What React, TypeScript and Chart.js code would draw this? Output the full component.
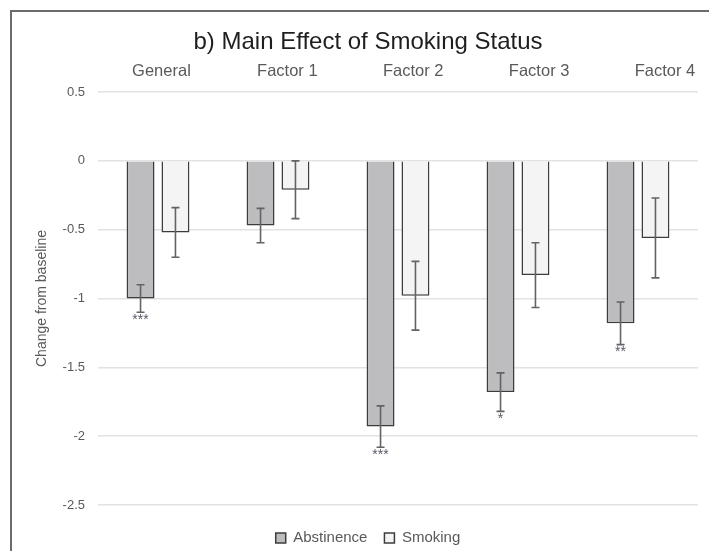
import React, { useEffect, useRef } from 'react';
import { Chart, registerables } from 'chart.js';

Chart.register(...registerables);

const categories = ['General', 'Factor 1', 'Factor 2', 'Factor 3', 'Factor 4'];
const abstinence = [-1.0, -0.47, -1.93, -1.68, -1.18];
const abstinenceErr = [0.1, 0.125, 0.15, 0.14, 0.155];
const smoking = [-0.52, -0.21, -0.98, -0.83, -0.56];
const smokingErr = [0.18, 0.21, 0.25, 0.235, 0.29];
const abstinenceSig = ['***', '', '***', '*', '**'];
const smokingSig = ['', '', '', '', ''];
const yMin = -2.5;
const yMax = 0.5;
const yStep = 0.5;

const errs = [abstinenceErr, smokingErr];
const sigs = [abstinenceSig, smokingSig];

const FONT = '"Liberation Sans", Arial, Helvetica, sans-serif';

const errorBarPlugin = {
  id: 'errorBars',
  afterDatasetsDraw(chart: any) {
    const ctx = chart.ctx;
    const yScale = chart.scales.y;
    chart.data.datasets.forEach((ds: any, di: number) => {
      const meta = chart.getDatasetMeta(di);
      meta.data.forEach((el: any, j: number) => {
        const v = ds.data[j];
        const e = errs[di][j];
        const yTop = yScale.getPixelForValue(v + e);
        const yBot = yScale.getPixelForValue(v - e);
        const x = el.x;
        ctx.save();
        ctx.strokeStyle = '#636363';
        ctx.lineWidth = 1.6;
        ctx.beginPath();
        ctx.moveTo(x, yTop);
        ctx.lineTo(x, yBot);
        ctx.moveTo(x - 4, yTop);
        ctx.lineTo(x + 4, yTop);
        ctx.moveTo(x - 4, yBot);
        ctx.lineTo(x + 4, yBot);
        ctx.stroke();
        const s = sigs[di][j];
        if (s) {
          ctx.fillStyle = '#555a66';
          ctx.font = `14px ${FONT}`;
          ctx.textAlign = 'center';
          ctx.textBaseline = 'top';
          ctx.fillText(s, x, yBot + 1);
        }
        ctx.restore();
      });
    });
  },
};

export default function App() {
  const ref = useRef<HTMLCanvasElement | null>(null);

  useEffect(() => {
    if (!ref.current) return;
    Chart.defaults.font.family = FONT;
    const chart = new Chart(ref.current, {
      type: 'bar',
      data: {
        labels: categories,
        datasets: [
          {
            label: 'Abstinence',
            data: abstinence,
            backgroundColor: '#bdbdc0',
            borderColor: '#3c3c3c',
            borderWidth: 1.5,
            categoryPercentage: 0.582,
            barPercentage: 0.8,
          },
          {
            label: 'Smoking',
            data: smoking,
            backgroundColor: '#f4f4f4',
            borderColor: '#3c3c3c',
            borderWidth: 1.5,
            categoryPercentage: 0.582,
            barPercentage: 0.8,
          },
        ],
      },
      options: {
        responsive: false,
        animation: false,
        devicePixelRatio: 1,
        layout: { padding: { left: 38, right: 11, top: 0, bottom: 4.5 } },
        plugins: {
          title: {
            display: true,
            text: 'b) Main Effect of Smoking Status',
            color: '#1f1f1f',
            font: { size: 24, weight: 'normal', family: FONT, lineHeight: 1.2 },
            padding: { top: 27.6, bottom: 0 },
          },
          legend: {
            display: true,
            position: 'bottom',
            labels: {
              color: '#595959',
              font: { size: 15, family: FONT },
              boxWidth: 10,
              boxHeight: 10,
              padding: 17,
            },
          },
          tooltip: { enabled: false },
        },
        scales: {
          x: {
            type: 'category',
            position: 'bottom',
            grid: { display: false, drawTicks: false },
            border: { display: false },
            ticks: { display: false },
            afterFit: (s: any) => {
              s.height = 8.5;
            },
          },
          xTop: {
            type: 'linear',
            axis: 'x',
            position: 'top',
            bounds: 'data',
            offset: false,
            min: -0.504,
            max: 4.262,
            grid: { display: false, drawTicks: false, offset: false },
            border: { display: false },
            afterBuildTicks: (s: any) => {
              s.ticks = categories.map((_, i) => ({ value: i }));
            },
            ticks: {
              autoSkip: false,
              maxRotation: 0,
              padding: 10.8,
              color: '#595959',
              font: { size: 16.5, family: FONT, lineHeight: 1.2 },
              callback: (v: any) => categories[Math.round(Number(v))] ?? '',
            },
            afterFit: (s: any) => {
              s.height = 35.6;
            },
          },
          y: {
            min: yMin,
            max: yMax,
            grid: { color: '#e2e2e2', lineWidth: 1.5, drawTicks: false },
            border: { display: false },
            ticks: {
              stepSize: yStep,
              padding: 13,
              color: '#595959',
              font: { size: 13, family: FONT },
              callback: (v: any) => String(Math.round(Number(v) * 10) / 10),
            },
            title: {
              display: true,
              text: 'Change from baseline',
              color: '#595959',
              font: { size: 14, family: FONT, lineHeight: 1.2 },
              padding: { top: -4.4, bottom: 0 },
            },
            afterFit: (s: any) => {
              s.width = 60;
            },
          },
        },
      },
      plugins: [errorBarPlugin],
    } as any);
    return () => chart.destroy();
  }, []);

  return (
    <div
      style={{
        position: 'fixed',
        left: 0,
        top: 0,
        width: 709,
        height: 551,
        overflow: 'hidden',
        background: '#ffffff',
      }}
    >
      <div
        style={{
          position: 'absolute',
          left: 10,
          top: 10,
          width: 800,
          height: 700,
          borderLeft: '2px solid #6b6b6b',
          borderTop: '2px solid #6b6b6b',
        }}
      />
      <canvas
        ref={ref}
        width={709}
        height={560}
        style={{ position: 'absolute', left: 0, top: 0, width: 709, height: 560, display: 'block' }}
      />
    </div>
  );
}
